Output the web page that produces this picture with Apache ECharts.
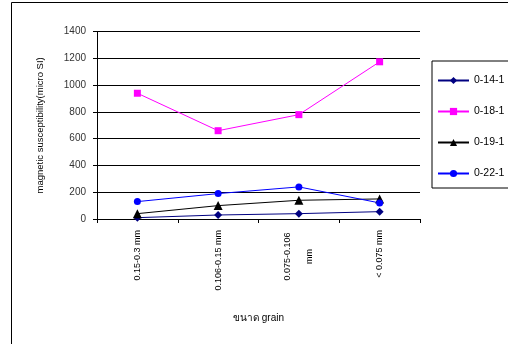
<!DOCTYPE html>
<html>
<head>
<meta charset="utf-8">
<script src="https://cdn.jsdelivr.net/npm/echarts@6/dist/echarts.min.js"></script>
<style>
html, body { margin: 0; padding: 0; background: #fff; }
#chart { width: 508px; height: 344px; }
</style>
</head>
<body>
<div id="chart"></div>
<script>
// Grain size fractions
var categories = ['0.15-0.3 mm', '0.106-0.15 mm', '0.075-0.106\nmm', '< 0.075 mm'];
// Magnetic susceptibility per sample (micro SI)
var s0141 = [10, 30, 40, 55];
var s0181 = [940, 660, 780, 1175];
var s0191 = [40, 100, 140, 150];
var s0221 = [130, 190, 240, 120];
var yTicks = [0, 200, 400, 600, 800, 1000, 1200, 1400];

var FONT = 'Liberation Sans, Arial, DejaVu Sans, sans-serif';

function mk(name, data, color, symbol, size) {
  return {
    name: name, type: 'line', data: data,
    symbol: symbol, symbolSize: size,
    itemStyle: { color: color },
    lineStyle: { color: color, width: 1 },
    emphasis: { disabled: true },
    animation: false
  };
}

var chart = echarts.init(document.getElementById('chart'), null, { renderer: 'canvas' });
chart.setOption({
  backgroundColor: '#fff',
  animation: false,
  textStyle: { fontFamily: FONT },
  graphic: [{
    type: 'polyline',
    shape: { points: [[11.5, 400], [11.5, 2.5], [520, 2.5]] },
    style: { stroke: '#000', lineWidth: 1, fill: null }
  }],
  grid: { left: 97, right: 88, top: 31.7, bottom: 125, containLabel: false },
  legend: {
    orient: 'vertical',
    left: 432, top: 61,
    padding: [14, 40, 9, 5],
    itemWidth: 31, itemHeight: 9, itemGap: 20,
    borderColor: '#000', borderWidth: 1,
    textStyle: { fontSize: 10.5, color: '#000', fontFamily: FONT },
    data: ['0-14-1', '0-18-1', '0-19-1', '0-22-1']
  },
  xAxis: {
    type: 'category',
    data: categories,
    boundaryGap: true,
    name: 'ขนาด grain',
    nameLocation: 'middle',
    nameGap: 94,
    nameTextStyle: { fontSize: 10, color: '#000', fontFamily: FONT },
    axisLine: { lineStyle: { color: '#000', width: 1 } },
    axisTick: { show: true, length: 4, lineStyle: { color: '#000' } },
    axisLabel: {
      rotate: 90, fontSize: 9, color: '#000', margin: 11,
      interval: 0,
      formatter: function (v) {
        if (v.indexOf('\n') >= 0) {
          return v.split('\n').map(function (t) { return '{c|' + t + '}'; }).join('\n');
        }
        return v;
      },
      rich: { c: { width: 53, align: 'center', fontSize: 9, color: '#000', lineHeight: 22 } }
    }
  },
  yAxis: {
    type: 'value',
    min: 0, max: 1400, interval: 200,
    name: 'magnetic susceptibility(micro SI)',
    nameLocation: 'middle',
    nameGap: 52,
    nameTextStyle: { fontSize: 9.5, color: '#000', fontFamily: FONT },
    axisLine: { show: true, lineStyle: { color: '#000', width: 1 } },
    axisTick: { show: true, length: 4, lineStyle: { color: '#000' } },
    axisLabel: {
      fontSize: 10, color: '#333', margin: 11,
      formatter: function (v) { return yTicks.indexOf(v) >= 0 ? String(v) : ''; }
    },
    splitLine: { show: true, lineStyle: { color: '#000', width: 1 } }
  },
  series: [
    mk('0-14-1', s0141, '#000080', 'diamond', 8),
    mk('0-18-1', s0181, '#ff00ff', 'rect', 7),
    mk('0-19-1', s0191, '#000000', 'triangle', 9),
    mk('0-22-1', s0221, '#0000ff', 'circle', 7)
  ]
});
</script>
</body>
</html>
